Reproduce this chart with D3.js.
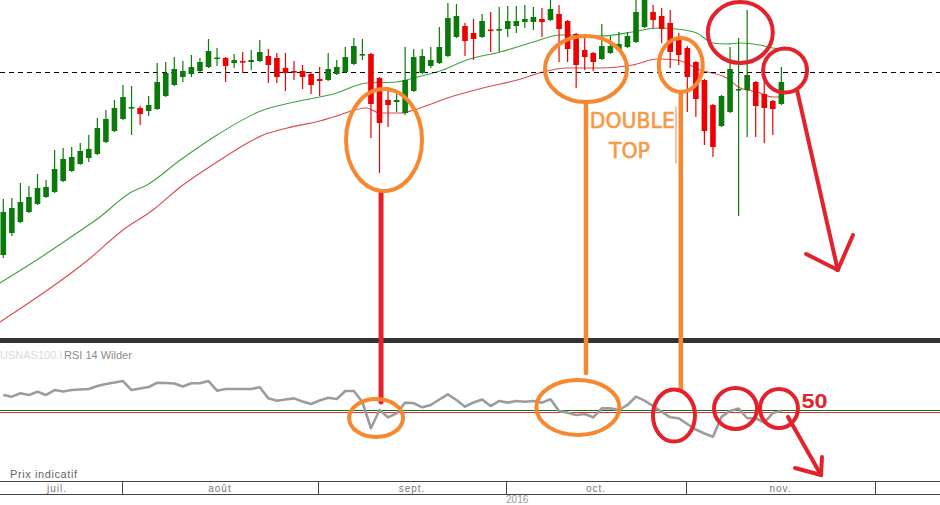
<!DOCTYPE html>
<html><head><meta charset="utf-8">
<script src="https://cdn.jsdelivr.net/npm/d3@7"></script>
<style>body{margin:0;background:#fff;} svg{display:block;}</style>
</head><body>
<svg id="c" width="940" height="505"></svg>
<script>
// ---------- DATA ----------
const openP = [4645,4667,4678,4688,4696,4703,4708,4719,4729,4736,
4742,4746,4758,4769,4781,4791.5,4792,4789,4791,4804,
4815,4823,4826,4829,4833,4841,4842,4837,4839,4838,
4839,4844,4842,4832,4829,4829,4826,4821,4820,4826,
4828,4836,4845,4846,4822,4800,4798,4787,4809,4827,
4834,4837,4844,4863,4874,4867,4863,4870.5,4870,4871,
4874,4878,4878,4881,4880,4886,4879,4866,4850,4847,
4841,4847,4850,4853,4858,4873,4888,4884,4877,4863,
4852,4838,4820,4795,4774,4788,4810,4810,4818,4806,
4799,4796];
const closeP = [4688,4692,4698,4703,4712,4713,4731,4741,4743,4749,
4751,4772,4781,4792,4803,4793,4786,4795,4818,4827,
4831,4829,4833,4838,4849,4842.5,4834,4840,4838,4840,
4848,4835,4823,4827,4828,4823,4815,4819,4831,4833,
4843,4854,4846,4796,4777,4795,4800,4820,4843,4844,
4840,4853,4882,4884,4859,4861,4879,4869.5,4871,4879,
4879,4881,4883,4878,4891,4871,4851,4835,4843,4838,
4854,4854,4856,4864,4888,4900,4880,4871,4848,4845,
4823,4801,4769,4753,4804,4831,4811,4825,4794,4792,
4791,4818];
const highP = [4701,4702,4717,4714,4726,4720,4750,4752,4753,4757,
4765,4782,4790,4800,4815,4814,4794,4804,4837,4838,
4843,4839,4845,4842,4861,4852,4843,4846,4848,4850,
4860,4851,4847,4847,4839,4835,4828,4833,4847,4840,
4853,4862,4861,4847,4823,4813,4808,4853,4851,4851,
4853,4873,4897,4896,4877,4881,4886,4888,4893,4894,
4894,4895,4893,4892,4900,4895,4880,4867,4866,4848,
4876,4864,4868,4868,4902,4905,4895,4892,4890,4867,
4854,4839,4821,4796,4805,4853,4862,4890,4819,4823,
4800,4833];
const lowP = [4642,4664,4677,4687,4695,4702,4707,4718,4728,4735,
4738,4745,4757,4768,4780,4765,4775,4784,4790,4803,
4814,4818,4823,4828,4832,4834,4818,4832,4827,4830,
4838,4817,4817,4809,4820,4811,4806,4804,4819,4825,
4827,4835,4840,4762,4727,4773,4788,4785,4808,4826,
4832,4836,4843,4862,4844,4840,4862,4848,4848,4863,
4867,4872,4870,4863,4879,4838,4838,4812,4830,4829,
4840,4846,4849,4852,4857,4872,4872,4857,4832,4835,
4788,4783,4755,4743,4773,4787,4684,4763,4763,4757,
4765,4795];
const rsiVals = [63.1,61.8,64.4,63.1,65.6,63.1,66.9,65.8,66.9,67.3,
67.7,70.0,71.5,72.7,73.8,66.9,68.1,69.2,72.5,72.3,
71.9,69.6,72.1,72.1,73.8,66.4,67.7,67.7,67.7,67.7,
69.0,60.5,58.7,59.6,60.5,58.1,56.2,58.8,61.0,60.0,
66.2,66.2,57.7,37.5,51.5,45.9,49.0,57.2,56.7,53.6,
55.4,59.6,63.6,59.2,54.1,57.3,59.6,54.6,58.5,57.2,
58.5,57.9,58.5,57.2,59.8,50.8,49.5,47.7,48.5,45.9,
52.8,52.8,51.5,55.4,61.8,58.7,54.6,50.2,45.9,45.2,
40.8,36.5,33.5,31.0,46.2,50.8,52.7,45.2,45.2,41.9,
49.2,51.0];
// moving averages: [candle index, value]
const maGreen = [[-0.4,4617],[3.9,4640],[7.4,4660],[11.3,4683],[14.8,4707],[16.8,4715],[20.7,4740],[25.0,4765],[30.4,4790],[33.5,4797],[37.0,4803],[38.6,4806],[42.5,4817],[46.0,4818],[48.4,4823],[51.4,4830],[54.2,4840],[58.1,4848],[62.0,4858],[65.1,4865],[67.4,4865],[69.8,4864],[73.6,4868],[76.5,4872],[78.8,4871],[81.1,4867],[83.0,4857],[84.6,4856],[86.2,4857],[88.5,4855],[90.0,4852],[91.0,4851]];
const maRed = [[-0.4,4578],[9.9,4640],[14.0,4670],[17.5,4690],[20.7,4713],[25.0,4738],[30.4,4765],[33.2,4772],[37.0,4779],[38.6,4783],[42.5,4792],[44.0,4787],[46.6,4787],[48.0,4790],[52.3,4803],[56.1,4812],[60.1,4820],[63.1,4828],[65.9,4832],[69.8,4832],[73.6,4835],[76.5,4841],[78.8,4840],[81.5,4830],[84.6,4822],[86.2,4812],[88.2,4808],[90.0,4803],[91.0,4803]];
const refLevel = 4828;
const rsiLevels = [51.5, 50];
const rsiLevelColors = ["#1b6e1b", "#e03030"];
const monthLabels = ["juil.","août","sept.","oct.","nov."];
const monthBounds = [-1.32, 13.88, 36.8, 58.8, 79.85, 101.96];
const yearLabel = "2016", yearPos = 60.1;

// annotations (candle index + value on the panel's scale)
const ORANGE = "#f7882f", RED = "#e3222b";
const annEllipses = [
  {i:44.53, v:4760, p:"p", rx:38, ry:51, c:ORANGE},
  {i:43.6, v:45.4, p:"r", rx:27, ry:19, c:ORANGE},
  {i:68.15, v:4831, p:"p", rx:41, ry:33, c:ORANGE},
  {i:67.2, v:53.5, p:"r", rx:41.5, ry:27.5, c:ORANGE},
  {i:79.24, v:4835, p:"p", rx:22, ry:27, c:ORANGE},
  {i:78.44, v:47.3, p:"r", rx:21, ry:26, c:RED},
  {i:86.2, v:4867.5, p:"p", rx:32.5, ry:30.5, c:RED},
  {i:91.43, v:4829.5, p:"p", rx:22, ry:22, c:RED},
  {i:85.64, v:52.7, p:"r", rx:21.5, ry:20.5, c:RED},
  {i:90.72, v:52.7, p:"r", rx:19, ry:19.5, c:RED}
];
const annLines = [
  {a:[44.18,4708,"p"], b:[44.18,57.7,"r"], c:RED, w:5},
  {a:[68.15,4798,"p"], b:[68.15,80,"r"], c:ORANGE, w:4.5},
  {a:[79.24,4808,"p"], b:[79.24,66.9,"r"], c:ORANGE, w:4.5},
  {a:[78.68,4793,"p"], b:[78.68,4737,"p"], c:ORANGE, w:1},
  {a:[92.83,4810,"p"], b:[97.6,4630,"p"], c:RED, w:4},
  {a:[93.9,4646,"p"], b:[97.6,4630,"p"], c:RED, w:4},
  {a:[99.38,4665,"p"], b:[97.6,4630,"p"], c:RED, w:4},
  {a:[91.78,46.2,"r"], b:[95.64,1.5,"r"], c:RED, w:4},
  {a:[92.6,6.9,"r"], b:[95.64,1.5,"r"], c:RED, w:4},
  {a:[95.75,15.4,"r"], b:[95.64,1.5,"r"], c:RED, w:4}
];

// ---------- SCALES ----------
const svg = d3.select("#c");
const x = d3.scaleLinear().domain([0,91]).range([3.3,781.35]);
const y = d3.scaleLinear().domain([4560,4900]).range([340,0]);
const yR = d3.scaleLinear().domain([0,100]).range([477,347]);
const Y = (v,p) => p === "p" ? y(v) : yR(v);
const crisp = v => Math.round(v) + 0.5;
const GREEN = "#0b7a0b", CRED = "#ee0000";

svg.append("defs").append("clipPath").attr("id","pc")
  .append("rect").attr("x",0).attr("y",0).attr("width",940).attr("height",338);

const price = svg.append("g").attr("clip-path","url(#pc)");
const candles = d3.range(openP.length).map(i => ({i, o:openP[i], c:closeP[i], h:highP[i], l:lowP[i]}));

// moving averages
const lineP = d3.line().x(d=>x(d[0])).y(d=>y(d[1])).curve(d3.curveMonotoneX);
price.append("path").attr("d", lineP(maRed)).attr("fill","none").attr("stroke","#e04a4a").attr("stroke-width",1.1);
price.append("path").attr("d", lineP(maGreen)).attr("fill","none").attr("stroke","#3fa33f").attr("stroke-width",1.1);

// dashed level
price.append("line").attr("x1",0).attr("x2",940).attr("y1",crisp(y(refLevel))).attr("y2",crisp(y(refLevel)))
  .attr("stroke","#000").attr("stroke-width",1).attr("stroke-dasharray","5,4");

// candles
const cg = price.selectAll("g.cd").data(candles).enter().append("g");
cg.append("line").attr("x1",d=>x(d.i)).attr("x2",d=>x(d.i))
  .attr("y1",d=>y(d.h)).attr("y2",d=>y(d.l))
  .attr("stroke",d=>d.c>=d.o?GREEN:CRED).attr("stroke-width",1.2);
cg.append("rect").attr("x",d=>x(d.i)-2.8).attr("width",5.6)
  .attr("y",d=>Math.min(y(d.o),y(d.c)))
  .attr("height",d=>Math.max(1.6,Math.abs(y(d.o)-y(d.c))))
  .attr("fill",d=>d.c>=d.o?GREEN:CRED);

// separator bar
svg.append("rect").attr("x",0).attr("y",338).attr("width",940).attr("height",5).attr("fill","#333");

// RSI panel
svg.append("text").attr("x",0).attr("y",359).attr("font-family","Liberation Sans, Arial, sans-serif")
  .attr("font-size",11).attr("fill","#dadada").text("USNAS100.I");
svg.append("text").attr("x",64).attr("y",359).attr("font-family","Liberation Sans, Arial, sans-serif")
  .attr("font-size",11).attr("fill","#8a8a8a").text("RSI 14 Wilder");
rsiLevels.forEach((v,k)=>{
  svg.append("line").attr("x1",0).attr("x2",940).attr("y1",crisp(yR(v))).attr("y2",crisp(yR(v)))
    .attr("stroke",rsiLevelColors[k]).attr("stroke-width",1);
});
const lineR = d3.line().x((d,i)=>x(i)).y(d=>yR(d));
svg.append("path").attr("d",lineR(rsiVals)).attr("fill","none").attr("stroke","#9c9c9c")
  .attr("stroke-width",2.6).attr("stroke-linejoin","round");

// bottom axis
svg.append("text").attr("x",10).attr("y",478).attr("font-family","Liberation Sans, Arial, sans-serif")
  .attr("font-size",11).attr("fill","#666").attr("letter-spacing",0.6).text("Prix indicatif");
svg.append("line").attr("x1",0).attr("x2",940).attr("y1",481.5).attr("y2",481.5).attr("stroke","#444");
svg.append("line").attr("x1",0).attr("x2",940).attr("y1",494.5).attr("y2",494.5).attr("stroke","#444");
monthBounds.forEach(b=>{
  svg.append("line").attr("x1",crisp(x(b))).attr("x2",crisp(x(b)))
    .attr("y1",481.5).attr("y2",494.5).attr("stroke","#444");
});
monthLabels.forEach((m,k)=>{
  svg.append("text").attr("x",x((monthBounds[k]+monthBounds[k+1])/2)).attr("y",492)
    .attr("text-anchor","middle").attr("font-family","Liberation Sans, Arial, sans-serif")
    .attr("font-size",10).attr("letter-spacing",1).attr("fill","#777").text(m);
});
svg.append("text").attr("x",x(yearPos)).attr("y",503).attr("text-anchor","middle")
  .attr("font-family","Liberation Sans, Arial, sans-serif").attr("font-size",10).attr("fill","#999").text(yearLabel);

// annotations
const ann = svg.append("g");
annLines.forEach(s=>{
  ann.append("line").attr("x1",x(s.a[0])).attr("y1",Y(s.a[1],s.a[2]))
    .attr("x2",x(s.b[0])).attr("y2",Y(s.b[1],s.b[2]))
    .attr("stroke",s.c).attr("stroke-width",s.w).attr("stroke-linecap","round");
});
annEllipses.forEach(e=>{
  ann.append("ellipse").attr("cx",x(e.i)).attr("cy",Y(e.v,e.p)).attr("rx",e.rx).attr("ry",e.ry)
    .attr("fill","none").attr("stroke",e.c).attr("stroke-width",4);
});
ann.append("text").attr("x",x(68.6)).attr("y",y(4772)).attr("font-family","DejaVu Sans, sans-serif")
  .attr("font-size",22).attr("fill","#f59a45").attr("stroke","#f59a45").attr("stroke-width",0.7)
  .attr("textLength",85).attr("lengthAdjust","spacingAndGlyphs").text("DOUBLE");
ann.append("text").attr("x",x(70.84)).attr("y",y(4742)).attr("font-family","DejaVu Sans, sans-serif")
  .attr("font-size",22).attr("fill","#f59a45").attr("stroke","#f59a45").attr("stroke-width",0.7)
  .attr("textLength",41).attr("lengthAdjust","spacingAndGlyphs").text("TOP");
ann.append("text").attr("x",x(93.37)).attr("y",yR(53.1)).attr("font-family","Liberation Sans, Arial, sans-serif")
  .attr("font-size",20).attr("font-weight","bold").attr("fill",RED).attr("textLength",26).attr("lengthAdjust","spacingAndGlyphs").text("50");
</script>
</body></html>
